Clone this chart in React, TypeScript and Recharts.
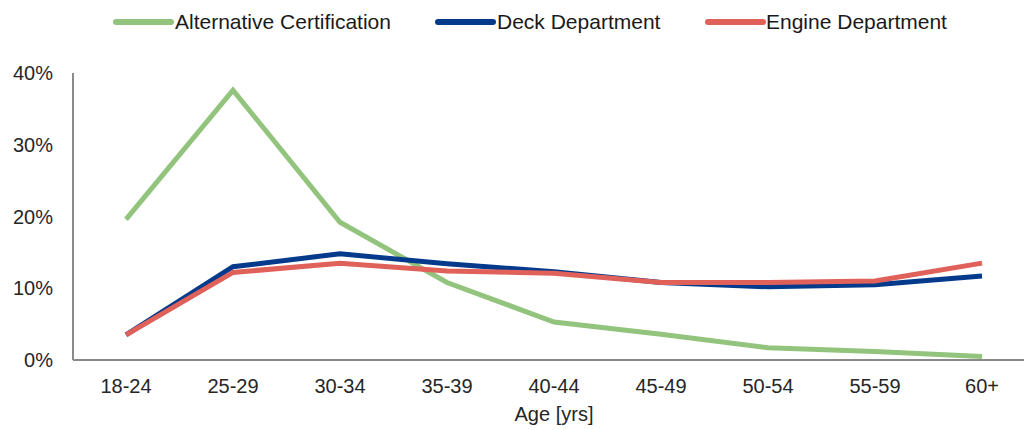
import {
  LineChart,
  Line,
  XAxis,
  YAxis,
  Legend,
} from "recharts";

const ageGroups = ["18-24", "25-29", "30-34", "35-39", "40-44", "45-49", "50-54", "55-59", "60+"];
const alternativeCert = [19.6, 37.6, 19.2, 10.8, 5.3, 3.6, 1.7, 1.2, 0.5];
const deckDept = [3.5, 13.0, 14.8, 13.4, 12.3, 10.8, 10.2, 10.5, 11.7];
const engineDept = [3.5, 12.2, 13.5, 12.4, 12.1, 10.8, 10.8, 11.0, 13.5];
const yTicks = [0, 10, 20, 30, 40];

const seriesNames = ["Alternative Certification", "Deck Department", "Engine Department"];
const seriesColors = ["#93c47d", "#043a8b", "#e0605a"];

const data = ageGroups.map((age, i) => ({
  age,
  alt: alternativeCert[i],
  deck: deckDept[i],
  engine: engineDept[i],
}));

const FONT = "'Liberation Sans', Arial, sans-serif";

// legend item positions (icon start, text start)
const legendPos = [
  { icon: 116, text: 175 },
  { icon: 438, text: 497 },
  { icon: 708, text: 766 },
];

function ChartLegend() {
  return (
    <div style={{ position: "relative", height: 24, width: 1040 }}>
      {seriesNames.map((name, i) => (
        <div key={name}>
          <svg
            width={62}
            height={24}
            style={{ position: "absolute", left: legendPos[i].icon - 3, top: 0 }}
          >
            <line
              x1={3}
              y1={12}
              x2={58}
              y2={12}
              stroke={seriesColors[i]}
              strokeWidth={6}
              strokeLinecap="round"
            />
          </svg>
          <span
            style={{
              position: "absolute",
              left: legendPos[i].text,
              top: 0,
              lineHeight: "24px",
              fontSize: 21,
              fontFamily: FONT,
              color: "#1a1a1a",
              whiteSpace: "nowrap",
            }}
          >
            {name}
          </span>
        </div>
      ))}
    </div>
  );
}

export default function App() {
  const tickStyle = { fontSize: 20, fontFamily: FONT, fill: "#262626" };

  return (
    <div
      style={{
        position: "fixed",
        top: 0,
        left: 0,
        width: 1024,
        height: 430,
        overflow: "hidden",
        background: "#fff",
      }}
    >
      <LineChart
        width={1040}
        height={430}
        data={data}
        margin={{ top: 10, right: 5, left: 0, bottom: 0 }}
      >
        <Legend
          verticalAlign="top"
          height={63}
          content={() => <ChartLegend />}
          wrapperStyle={{ left: 0, top: 10, width: 1040 }}
        />
        <XAxis
          dataKey="age"
          height={70}
          padding={{ left: 53, right: 53 }}
          tickLine={false}
          tickSize={0}
          tickMargin={19}
          axisLine={{ stroke: "#8a8a8a", strokeWidth: 2 }}
          tick={tickStyle}
          interval={0}
          label={{
            value: "Age [yrs]",
            position: "insideBottom",
            offset: 9,
            style: { fontSize: 20, fontFamily: FONT, fill: "#262626" },
          }}
        />
        <YAxis
          width={73}
          domain={[0, 40]}
          ticks={yTicks}
          tickFormatter={(v) => `${v}%`}
          tickLine={false}
          tickSize={0}
          tickMargin={20}
          axisLine={{ stroke: "#8a8a8a", strokeWidth: 2 }}
          tick={tickStyle}
        />
        <Line
          dataKey="alt"
          name={seriesNames[0]}
          stroke={seriesColors[0]}
          strokeWidth={5}
          dot={false}
          type="linear"
          isAnimationActive={false}
        />
        <Line
          dataKey="deck"
          name={seriesNames[1]}
          stroke={seriesColors[1]}
          strokeWidth={5}
          dot={false}
          type="linear"
          isAnimationActive={false}
        />
        <Line
          dataKey="engine"
          name={seriesNames[2]}
          stroke={seriesColors[2]}
          strokeWidth={5}
          dot={false}
          type="linear"
          isAnimationActive={false}
        />
      </LineChart>
    </div>
  );
}
